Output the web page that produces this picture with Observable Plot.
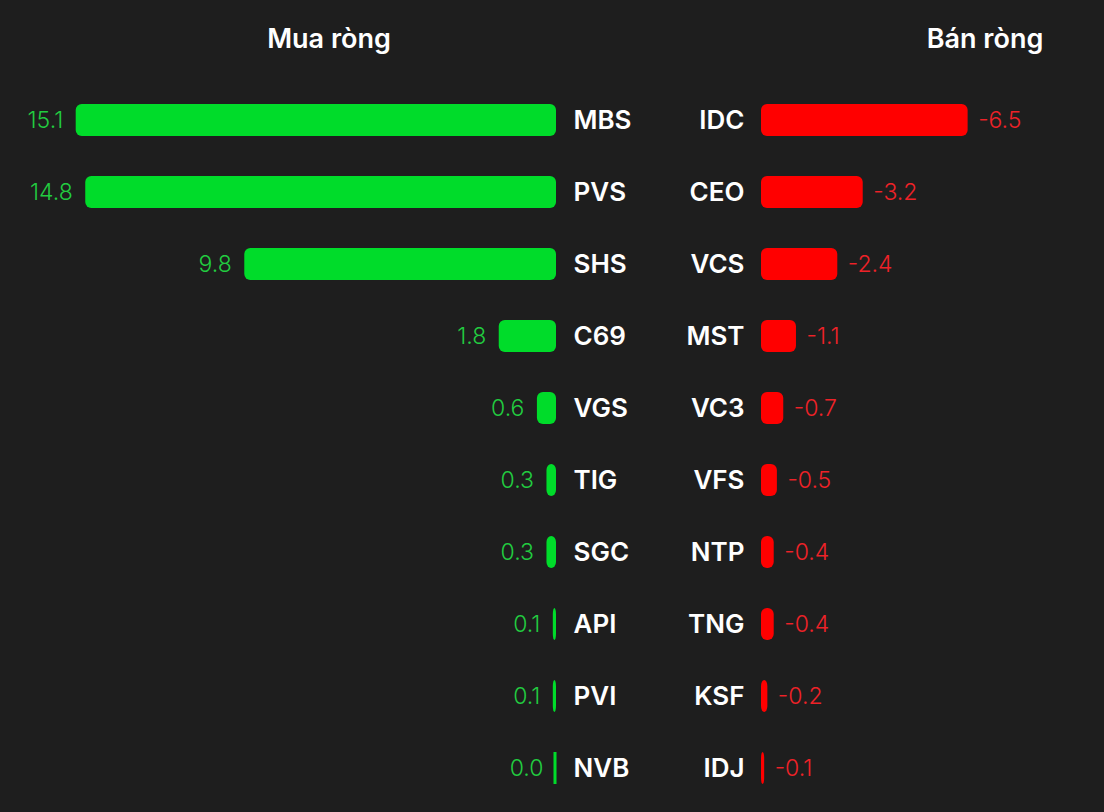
<!DOCTYPE html>
<html>
<head>
<meta charset="utf-8">
<script src="https://cdn.jsdelivr.net/npm/d3@7"></script>
<script src="https://cdn.jsdelivr.net/npm/@observablehq/plot@0.6"></script>
<style>
  html, body { margin: 0; padding: 0; background: #1e1e1e; }
  #wrap { position: relative; width: 1104px; height: 812px; background: #1e1e1e; font-family: Inter, "Open Sans", sans-serif; }
  .title { position: absolute; top: 22px; color: #fff; font-size: 27px; font-weight: 600; transform: translateX(-50%); white-space: nowrap; }
  #plots { position: absolute; top: 80px; left: 0; display: flex; }
</style>
</head>
<body>
<div id="wrap">
  <div class="title" style="left:329px">Mua ròng</div>
  <div class="title" style="left:985px">Bán ròng</div>
  <div id="plots"></div>
</div>
<script>
const buyTitle = "Mua ròng";
const sellTitle = "Bán ròng";
const buyTickers = ["MBS","PVS","SHS","C69","VGS","TIG","SGC","API","PVI","NVB"];
const buyValues  = [15.1, 14.8, 9.8, 1.8, 0.6, 0.3, 0.3, 0.1, 0.1, 0.0];
const sellTickers = ["IDC","CEO","VCS","MST","VC3","VFS","NTP","TNG","KSF","IDJ"];
const sellValues  = [-6.5, -3.2, -2.4, -1.1, -0.7, -0.5, -0.4, -0.4, -0.2, -0.1];

const buy = buyTickers.map((t, i) => ({ticker: t, value: buyValues[i]}));
const sell = sellTickers.map((t, i) => ({ticker: t, value: sellValues[i]}));

const GREEN = "#00dc2a", GREEN_TXT = "#22cc40";
const RED = "#ff0000", RED_TXT = "#ee2228";
const H = 732;
const common = {
  height: H,
  marginTop: 4,
  marginBottom: 8,
  style: {background: "transparent", color: "#fff", fontFamily: "Inter, 'Open Sans', sans-serif", fontSize: "26px", overflow: "visible"}
};
const valueStyle = {fontSize: 23, fontWeight: 300};

const left = Plot.plot({
  ...common,
  width: 660,
  marginLeft: 0,
  marginRight: 104,
  x: {domain: [0, 17.48], reverse: true, axis: null},
  y: {domain: buyTickers, padding: 0, label: null, axis: null},
  marks: [
    Plot.axisY({anchor: "right", tickSize: 0, tickPadding: 17, fontWeight: 600, fontSize: 26, label: null}),
    Plot.barX(buy, {x: "value", y: "ticker", fill: GREEN, insetTop: 20, insetBottom: 20, rx: 6}),
    Plot.tickX(buy.filter(d => Math.abs(d.value) < 0.1), {x: () => 0, y: "ticker", stroke: GREEN, strokeWidth: 3, dx: -1.5, insetTop: 20, insetBottom: 20}),
    Plot.text(buy, {x: "value", y: "ticker", text: d => d.value.toFixed(1), textAnchor: "end", dx: -13, fill: GREEN_TXT, ...valueStyle, style: "letter-spacing:1px"})
  ]
});

const right = Plot.plot({
  ...common,
  width: 444,
  marginLeft: 101,
  marginRight: 0,
  x: {domain: [0, 10.79], axis: null},
  y: {domain: sellTickers, padding: 0, label: null, axis: null},
  marks: [
    Plot.axisY({anchor: "left", tickSize: 0, tickPadding: 17, fontWeight: 600, fontSize: 26, label: null}),
    Plot.barX(sell, {x: d => -d.value, y: "ticker", fill: RED, insetTop: 20, insetBottom: 20, rx: 6}),
    Plot.tickX(sell.filter(d => Math.abs(d.value) < 0.1), {x: () => 0, y: "ticker", stroke: RED, strokeWidth: 3, dx: 1.5, insetTop: 20, insetBottom: 20}),
    Plot.text(sell, {x: d => -d.value, y: "ticker", text: d => d.value.toFixed(1), textAnchor: "start", dx: 10, fill: RED_TXT, ...valueStyle})
  ]
});

document.getElementById("plots").append(left, right);
document.querySelectorAll("#plots text").forEach(t => { if (t.getAttribute("fill") === GREEN_TXT || t.getAttribute("fill") === RED_TXT) t.style.letterSpacing = "1px"; });
</script>
</body>
</html>
